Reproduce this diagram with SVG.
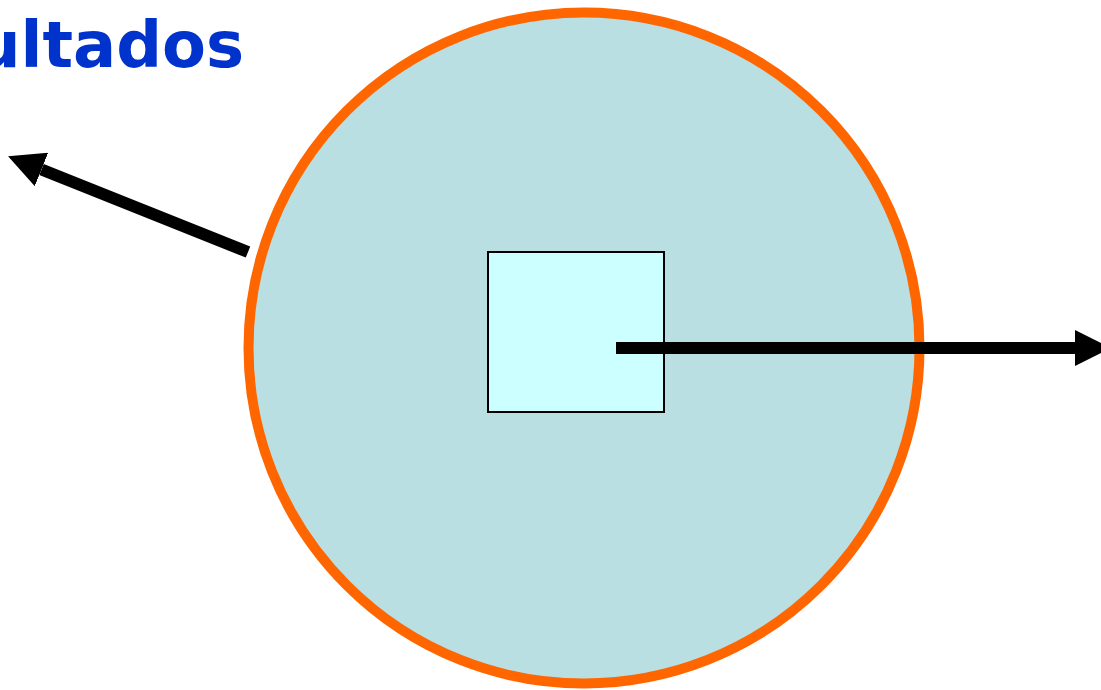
<svg xmlns="http://www.w3.org/2000/svg" width="1101" height="690" viewBox="0 0 1101 690">
  <style>
    .title { font-family: "DejaVu Sans", "Liberation Sans", sans-serif; font-weight: bold; font-size: 64px; fill: #0033CC; }
    .conn { stroke: #000; stroke-width: 12; fill: none; }
  </style>
  <defs>
    <marker id="head" markerUnits="strokeWidth" markerWidth="3" markerHeight="3" viewBox="0 0 36 36" refX="0" refY="18" orient="auto">
      <path d="M0,0 L36,18 L0,36 z" fill="#000"/>
    </marker>
  </defs>
  <rect width="1101" height="690" fill="#fff"/>
  <g id="title">
    <text class="title" x="-25" y="67">ultados</text>
  </g>
  <g id="circle">
    <circle cx="584" cy="348" r="335.5" fill="#B9DFE2" stroke="#FF6600" stroke-width="10"/>
  </g>
  <g id="square">
    <rect x="488" y="252" width="176" height="160" fill="#CCFFFF" stroke="#000" stroke-width="2"/>
  </g>
  <g id="connectors">
    <line class="conn" x1="616" y1="348" x2="1075" y2="348" marker-end="url(#head)"/>
    <line class="conn" x1="248" y1="252" x2="41.5" y2="169.5" marker-end="url(#head)"/>
  </g>
</svg>
